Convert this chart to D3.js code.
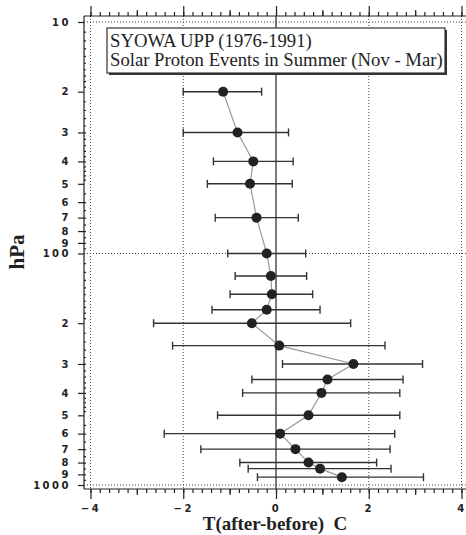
<!DOCTYPE html>
<html>
<head>
<meta charset="utf-8">
<style>
  body { margin: 0; background: #fff; }
  .grid { stroke: #444; stroke-width: 1; stroke-dasharray: 1,2; fill: none; }
  .axis path, .axis line { stroke: #222; stroke-width: 1.2; }
  .tick text { font-family: "DejaVu Sans", sans-serif; font-weight: bold; font-size: 10px; letter-spacing: 2.5px; fill: #222; }
  .line { fill: none; stroke: #9a9a9a; stroke-width: 1.2; }
  .err { stroke: #333; stroke-width: 1.4; }
  .dot { fill: #222; }
</style>
</head>
<body>
<svg id="chart" width="466" height="535"></svg>
<script src="https://cdn.jsdelivr.net/npm/d3@7/dist/d3.min.js"></script>
<script>
// pressure levels (hPa) and temperature change after-before (C)
const pressure = [20, 30, 40, 50, 70, 100, 125, 150, 175, 200, 250, 300, 350, 400, 500, 600, 700, 800, 850, 925]
const meanT = [-1.14, -0.83, -0.49, -0.56, -0.42, -0.20, -0.11, -0.09, -0.20, -0.52, 0.07, 1.67, 1.11, 0.98, 0.70, 0.09, 0.42, 0.70, 0.95, 1.42]
const lowT = [-2.00, -2.00, -1.35, -1.48, -1.31, -1.04, -0.88, -0.99, -1.38, -2.64, -2.23, 0.14, -0.52, -0.72, -1.26, -2.41, -1.62, -0.78, -0.60, -0.40]
const highT = [-0.31, 0.27, 0.37, 0.35, 0.48, 0.64, 0.66, 0.79, 0.95, 1.61, 2.35, 3.16, 2.74, 2.67, 2.67, 2.56, 2.46, 2.17, 2.48, 3.18]

const xTicks = [-4, -2, 0, 2, 4]
const yTicks = [10, 20, 30, 40, 50, 60, 70, 80, 90, 100, 200, 300, 400, 500, 600, 700, 800, 900, 1000]
const yTickLabels = ["10", "2", "3", "4", "5", "6", "7", "8", "9", "100", "2", "3", "4", "5", "6", "7", "8", "9", "1000"]

const titleLines = ["SYOWA UPP (1976-1991)", "Solar Proton Events in Summer (Nov - Mar)"]

let svg = d3.select("#chart")

let xScale = d3.scaleLinear().domain([-4, 4]).range([90.5, 461.5])
let yScale = d3.scaleLog().domain([10, 1000]).range([22, 485])

let data = pressure.map((p, i) => ({ p: p, t: meanT[i], lo: lowT[i], hi: highT[i] }))

// gridlines
let grid = svg.append("g")
grid.selectAll("line.v")
    .data(xTicks.filter(d => d !== 0))
    .join("line")
    .attr("class", "grid")
    .attr("x1", d => xScale(d)).attr("x2", d => xScale(d))
    .attr("y1", 16).attr("y2", 489)
grid.selectAll("line.h")
    .data([10, 100, 1000])
    .join("line")
    .attr("class", "grid")
    .attr("x1", 84).attr("x2", 466)
    .attr("y1", d => yScale(d)).attr("y2", d => yScale(d))
// zero line
svg.append("line")
    .attr("x1", xScale(0)).attr("x2", xScale(0))
    .attr("y1", 16).attr("y2", 489)
    .attr("stroke", "#222").attr("stroke-width", 1.2)

// minor tick values (axis decoration)
let xMinor = d3.range(-4, 4.01, 0.2).map(d => +d.toFixed(1))
let xMid = [-3, -1, 1, 3]
let yMinor = []
;[10, 100].forEach(dec => {
    d3.range(1.1, 2, 0.1).forEach(m => yMinor.push(dec * m))
    d3.range(2.2, 5, 0.2).forEach(m => yMinor.push(dec * m))
    d3.range(5.5, 10, 0.5).forEach(m => yMinor.push(dec * m))
})

// top axis
let topAxis = svg.append("g").attr("class", "axis").attr("transform", "translate(0,16)")
topAxis.call(d3.axisTop(xScale).tickValues(xMinor).tickSize(4).tickSizeOuter(0).tickFormat(""))
topAxis.select(".domain").attr("d", "M84,0H466")
topAxis.append("g").call(d3.axisTop(xScale).tickValues(xMid).tickSize(6).tickFormat(""))
    .select(".domain").remove()
topAxis.append("g").call(d3.axisTop(xScale).tickValues(xTicks).tickSize(10).tickFormat(""))
    .select(".domain").remove()

// bottom axis
let bottomAxis = svg.append("g").attr("class", "axis").attr("transform", "translate(0,489)")
bottomAxis.call(d3.axisBottom(xScale).tickValues(xMinor).tickSize(4).tickSizeOuter(0).tickFormat(""))
bottomAxis.select(".domain").attr("d", "M84,0H466")
bottomAxis.append("g").call(d3.axisBottom(xScale).tickValues(xMid).tickSize(6).tickFormat(""))
    .select(".domain").remove()
bottomAxis.append("g").call(d3.axisBottom(xScale).tickValues(xTicks).tickSize(10).tickPadding(6).tickFormat(d3.format("d")))
    .select(".domain").remove()

// left axis
let leftAxis = svg.append("g").attr("class", "axis").attr("transform", "translate(84,0)")
leftAxis.call(d3.axisRight(yScale).tickValues(yMinor).tickSize(2).tickSizeOuter(0).tickFormat(""))
leftAxis.select(".domain").attr("d", "M0,16V489")
leftAxis.append("g").call(d3.axisLeft(yScale).tickValues(yTicks).tickSize(6).tickPadding(7)
        .tickFormat((d, i) => yTickLabels[i]))
    .select(".domain").remove()

// connecting line
let valueLine = d3.line().x(d => xScale(d.t)).y(d => yScale(d.p))
svg.append("path").datum(data).attr("class", "line").attr("d", valueLine)

// error bars
let bars = svg.append("g")
bars.selectAll("line.bar").data(data).join("line").attr("class", "err")
    .attr("x1", d => xScale(d.lo)).attr("x2", d => xScale(d.hi))
    .attr("y1", d => yScale(d.p)).attr("y2", d => yScale(d.p))
bars.selectAll("line.capl").data(data).join("line").attr("class", "err")
    .attr("x1", d => xScale(d.lo)).attr("x2", d => xScale(d.lo))
    .attr("y1", d => yScale(d.p) - 4).attr("y2", d => yScale(d.p) + 4)
bars.selectAll("line.caph").data(data).join("line").attr("class", "err")
    .attr("x1", d => xScale(d.hi)).attr("x2", d => xScale(d.hi))
    .attr("y1", d => yScale(d.p) - 4).attr("y2", d => yScale(d.p) + 4)

// points
svg.selectAll("circle.dot").data(data).join("circle").attr("class", "dot")
    .attr("cx", d => xScale(d.t)).attr("cy", d => yScale(d.p)).attr("r", 5)

// legend box
let legend = svg.append("g")
legend.append("rect").attr("x", 109).attr("y", 30).attr("width", 338).attr("height", 45).attr("fill", "#333")
legend.append("rect").attr("x", 107).attr("y", 28).attr("width", 338).attr("height", 45)
    .attr("fill", "#fff").attr("stroke", "#333").attr("stroke-width", 1.2)
legend.selectAll("text").data(titleLines).join("text")
    .attr("x", 110).attr("y", (d, i) => 47 + i * 19)
    .style("font-family", "'Liberation Serif', 'Times New Roman', serif")
    .style("font-size", "18.7px").attr("fill", "#222")
    .text(d => d)

// axis titles
svg.append("text").attr("x", 275).attr("y", 530).attr("text-anchor", "middle")
    .style("font-family", "'Liberation Serif', serif").style("font-weight", "bold").style("font-size", "19px")
    .attr("fill", "#222").attr("xml:space", "preserve")
    .text("T(after-before)  C")
svg.append("text").attr("transform", "translate(24,252) rotate(-90)").attr("text-anchor", "middle")
    .style("font-family", "'Liberation Serif', serif").style("font-weight", "bold").style("font-size", "21px")
    .attr("fill", "#222").text("hPa")
</script>
</body>
</html>
